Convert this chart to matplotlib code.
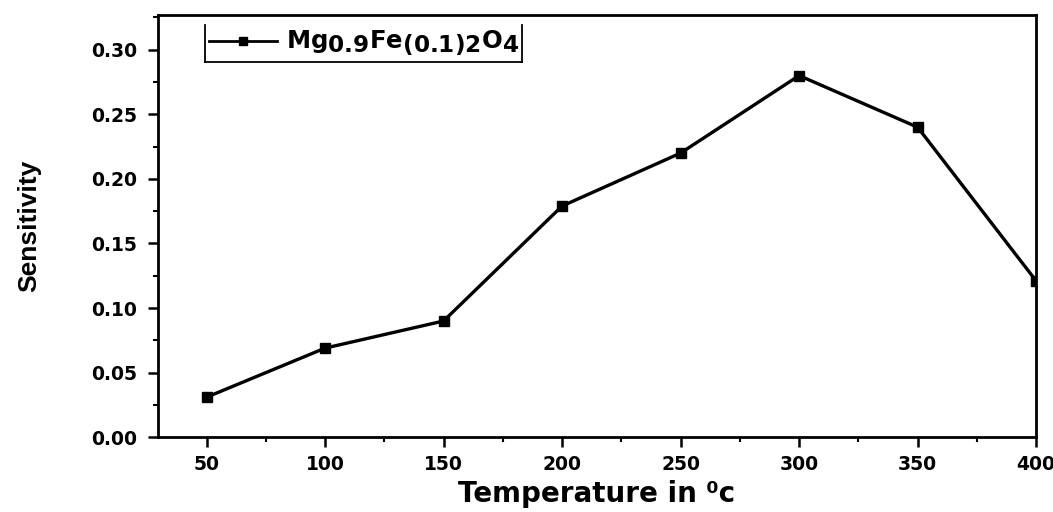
import matplotlib.pyplot as plt
import matplotlib._mathtext as mathtext_internals
from matplotlib.ticker import MultipleLocator
from matplotlib.lines import Line2D

temperature = [50, 100, 150, 200, 250, 300, 350, 400]
sensitivity = [0.031, 0.069, 0.090, 0.179, 0.220, 0.280, 0.240, 0.121]
series_label = r'Mg$_{0.9}$Fe$_{(0.1)2}$O$_4$'

# the original legend uses nearly full-size subscripts
mathtext_internals.SHRINK_FACTOR = 0.95


def main():
    plt.rcParams['font.family'] = 'DejaVu Sans'
    plt.rcParams['font.weight'] = 'bold'
    plt.rcParams['mathtext.fontset'] = 'dejavusans'
    plt.rcParams['mathtext.default'] = 'bf'

    fig = plt.figure(figsize=(10.53, 5.12), dpi=100)
    ax = fig.add_axes([0.150, 0.146, 0.834, 0.825])

    ax.plot(temperature, sensitivity, color='black', lw=2.4,
            marker='s', markersize=6.5, label=series_label)

    ax.set_xlim(29.5, 400)
    ax.set_ylim(0, 0.327)
    ax.xaxis.set_major_locator(MultipleLocator(50))
    ax.xaxis.set_minor_locator(MultipleLocator(25))
    ax.yaxis.set_major_locator(MultipleLocator(0.05))
    ax.yaxis.set_minor_locator(MultipleLocator(0.025))
    ax.yaxis.set_major_formatter(plt.FormatStrFormatter('%.2f'))

    ax.tick_params(which='major', direction='out', length=7, width=1.8, labelsize=13.5, pad=6)
    ax.tick_params(axis='y', which='major', pad=8)
    ax.tick_params(which='minor', direction='out', length=3.5, width=1.5)
    for s in ax.spines.values():
        s.set_linewidth(2)

    ax.set_xlabel('Temperature in \u2070c', fontsize=20, fontweight='bold', labelpad=4)
    ax.set_ylabel('Sensitivity', fontsize=19, fontweight='bold', labelpad=36,
                  family='Liberation Sans')

    leg = ax.legend(loc='upper left', bbox_to_anchor=(0.054, 0.975), fontsize=17.5,
                    frameon=False, handlelength=2.8, handletextpad=0.35,
                    markerscale=0.8, borderpad=0.15, borderaxespad=0.0)
    leg.get_lines()[0].set_linewidth(2)

    # legend box drawn open at the top, as in the original
    fig.canvas.draw()
    bb = leg.get_window_extent().transformed(fig.transFigure.inverted())
    x0, y0, x1, y1 = bb.x0, bb.y0, bb.x1, bb.y1
    for xs, ys in [([x0, x0], [y0, y1]), ([x0, x1], [y0, y0]), ([x1, x1], [y0, y1])]:
        fig.add_artist(Line2D(xs, ys, color='black', lw=1.3, transform=fig.transFigure))

    plt.savefig('out.png', dpi=100)


if __name__ == "__main__":
    main()
